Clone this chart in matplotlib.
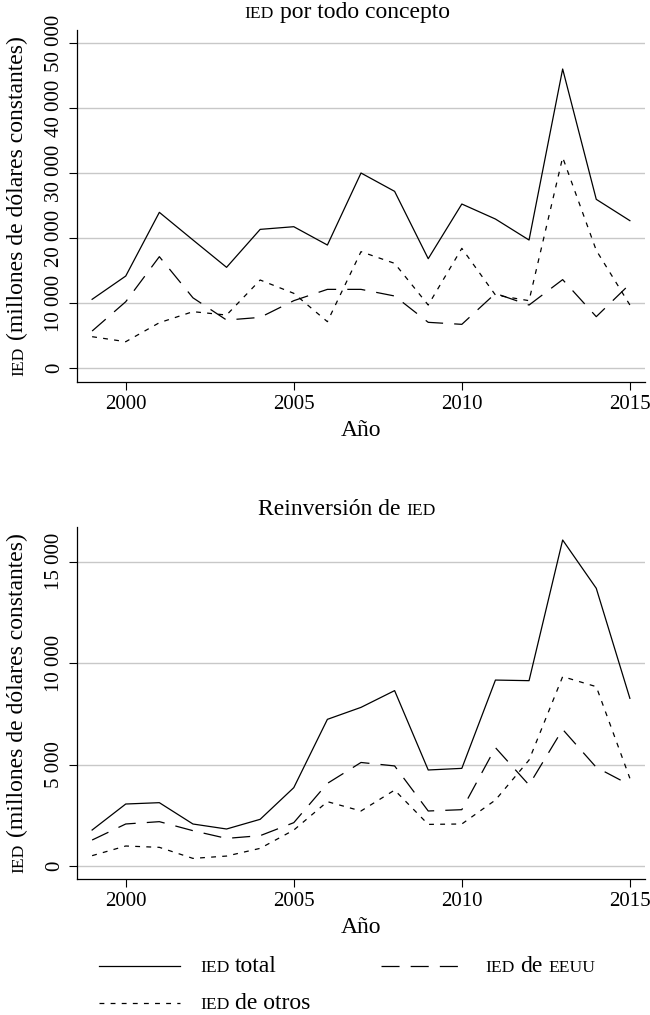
import matplotlib
matplotlib.use('Agg')
import matplotlib.pyplot as plt
from matplotlib.lines import Line2D

# values (millones de dólares constantes)
years = list(range(1999, 2016))

total_todo = [10570, 14150, 23950, 19700, 15490, 21330, 21740, 18920, 30000,
              27180, 16820, 25230, 22920, 19690, 46000, 25950, 22670]
eeuu_todo = [5690, 10200, 17130, 10800, 7380, 7790, 10360, 12100, 12100,
             11080, 7030, 6720, 11480, 9690, 13600, 7900, 12920]
otros_todo = [4820, 4050, 6970, 8670, 8150, 13540, 11490, 7130, 17900,
              16100, 9690, 18410, 11230, 10360, 32400, 18100, 9700]

total_reinv = [1773, 3054, 3120, 2069, 1823, 2300, 3860, 7225, 7815,
               8640, 4730, 4810, 9160, 9130, 16060, 13680, 8260]
eeuu_reinv = [1280, 2070, 2185, 1740, 1360, 1495, 2135, 4070, 5100,
              4930, 2710, 2775, 5830, 3990, 6730, 4860, 3990]
otros_reinv = [510, 985, 920, 375, 490, 870, 1770, 3170, 2710,
               3740, 2050, 2070, 3250, 5220, 9330, 8835, 4320]

xticks = [2000, 2005, 2010, 2015]
yticks_todo = [0, 10000, 20000, 30000, 40000, 50000]
yticks_reinv = [0, 5000, 10000, 15000]

W, H = 650, 1015
plt.rcParams['font.family'] = ['Liberation Serif', 'DejaVu Serif']
plt.rcParams['lines.scale_dashes'] = False

LONG = (13, 8)
SHORT = (3.5, 4.5)
TXT = 17

fig = plt.figure(figsize=(W / 100, H / 100), dpi=100)


def box(left, top, right, bottom):
    return [left / W, 1 - bottom / H, (right - left) / W, (bottom - top) / H]


def panel(ax, tot, us, oth, yticks, ylim):
    ax.plot(years, tot, color='black', lw=0.9)
    ax.plot(years, us, color='black', lw=0.9, dashes=LONG)
    ax.plot(years, oth, color='black', lw=0.9, dashes=SHORT)
    ax.set_xlim(1998.55, 2015.45)
    ax.set_ylim(*ylim)
    ax.set_xticks(xticks)
    ax.set_yticks(yticks)
    ax.set_yticklabels([f"{v:,}".replace(",", " ") for v in yticks],
                       rotation=90, va='center')
    ax.grid(axis='y', color='#c8c8c8', lw=1.0)
    ax.set_axisbelow(True)
    for s in ['top', 'right']:
        ax.spines[s].set_visible(False)
    for s in ['left', 'bottom']:
        ax.spines[s].set_linewidth(0.9)
    ax.tick_params(direction='out', length=5.8, width=0.8, labelsize=15)
    ax.tick_params(axis='y', pad=3.6)
    ax.tick_params(axis='x', pad=3.5)


def sc_text(x, y, parts, ha='center', rot=0, size=TXT):
    # parts: (text, small caps?) pieces laid out one after another
    r = fig.canvas.get_renderer()
    items = []
    for s, small in parts:
        t = fig.text(0, 0, s, fontsize=size * 0.74 if small else size,
                     rotation=rot, rotation_mode='anchor',
                     ha='left', va='baseline')
        bb = t.get_window_extent(r)
        items.append((t, bb.height if rot else bb.width))
    gap = 0.25 * size * 100 / 72
    total = sum(w for _, w in items) + gap * (len(items) - 1)
    pos = -total / 2 if ha == 'center' else 0
    for t, w in items:
        if rot:
            t.set_position((x / W, (H - y + pos) / H))
        else:
            t.set_position(((x + pos) / W, (H - y) / H))
        pos += w + gap


ax1 = fig.add_axes(box(77, 30, 645, 382))
panel(ax1, total_todo, eeuu_todo, otros_todo, yticks_todo, (-2150, 52000))

ax2 = fig.add_axes(box(77, 527, 645, 879))
panel(ax2, total_reinv, eeuu_reinv, otros_reinv, yticks_reinv, (-640, 16700))

# titles, axis labels
sc_text(347, 18, [("IED", True), ("por todo concepto", False)])
sc_text(347, 515, [("Reinversión de", False), ("IED", True)])
for yc in [206, 703]:
    sc_text(23, yc, [("IED", True), ("(millones de dólares constantes)", False)], rot=90)
fig.text(361 / W, 1 - 436 / H, "Año", fontsize=TXT, ha='center', va='baseline')
fig.text(361 / W, 1 - 933 / H, "Año", fontsize=TXT, ha='center', va='baseline')

# legend
def key(x0, x1, y, dashes):
    ln = Line2D([x0 / W, x1 / W], [1 - y / H] * 2, transform=fig.transFigure,
                color='black', lw=0.9)
    if dashes:
        ln.set_dashes(dashes)
    fig.add_artist(ln)

key(99, 180, 966, None)
sc_text(200, 972, [("IED", True), ("total", False)], ha='left')
key(381, 462, 966, LONG)
sc_text(485, 972, [("IED", True), ("de", False), ("EEUU", True)], ha='left')
key(99, 180, 1003, SHORT)
sc_text(200, 1009, [("IED", True), ("de otros", False)], ha='left')

fig.savefig('out.png', dpi=100)
